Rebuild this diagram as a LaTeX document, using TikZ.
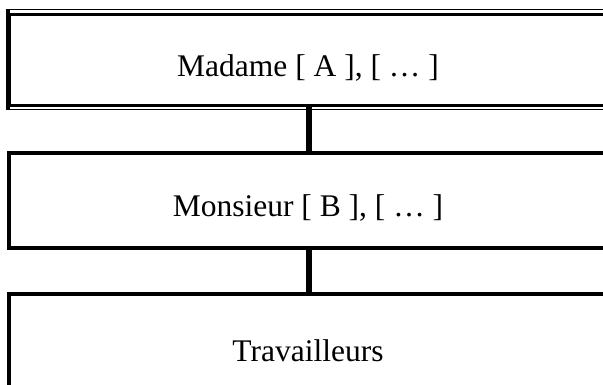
\documentclass[tikz,border=0pt]{standalone}
\usepackage{fontspec}
\setmainfont{Liberation Serif}
\begin{document}
\begin{tikzpicture}[x=1pt,y=-1pt,
  box/.style={draw, rectangle, line width=4pt, minimum width=600pt, inner sep=0pt},
  thinrule/.style={line width=1.2pt},
  link/.style={line width=6pt},
  caption/.style={anchor=base, inner sep=0pt, font=\fontsize{31.5}{36}\selectfont}]
  \clip (0,0) rectangle (603,385);
  \fill[white] (0,0) rectangle (603,385);

  % top box: heavy inner frame with a light outer rule above and below
  \node[box, line width=3pt, minimum height=91pt] (madame) at (309,59.6) {};
  \draw[thinrule] ([xshift=-2pt,yshift=3.2pt]madame.north west) -- ([xshift=2pt,yshift=3.2pt]madame.north east);
  \draw[thinrule] ([xshift=-2pt,yshift=-3.2pt]madame.south west) -- ([xshift=2pt,yshift=-3.2pt]madame.south east);
  \draw[line width=4pt] ([yshift=3.8pt]madame.north west) -- ([yshift=-3.8pt]madame.south west);

  % middle and bottom boxes
  \node[box, minimum height=95pt] (monsieur) at (309,200.5) {};
  \node[box, minimum height=100pt] (travailleurs) at (309,344) {};

  % captions
  \node[caption] (tA) at (308,77) {Madame [ A ], [ … ]};
  \node[caption] (tB) at (308,217) {Monsieur [ B ], [ … ]};
  \node[caption] (tC) at (308,361) {Travailleurs};

  % links between the levels
  \draw[link] (madame.south) -- (monsieur.north);
  \draw[link] (monsieur.south) -- (travailleurs.north);
\end{tikzpicture}
\end{document}
